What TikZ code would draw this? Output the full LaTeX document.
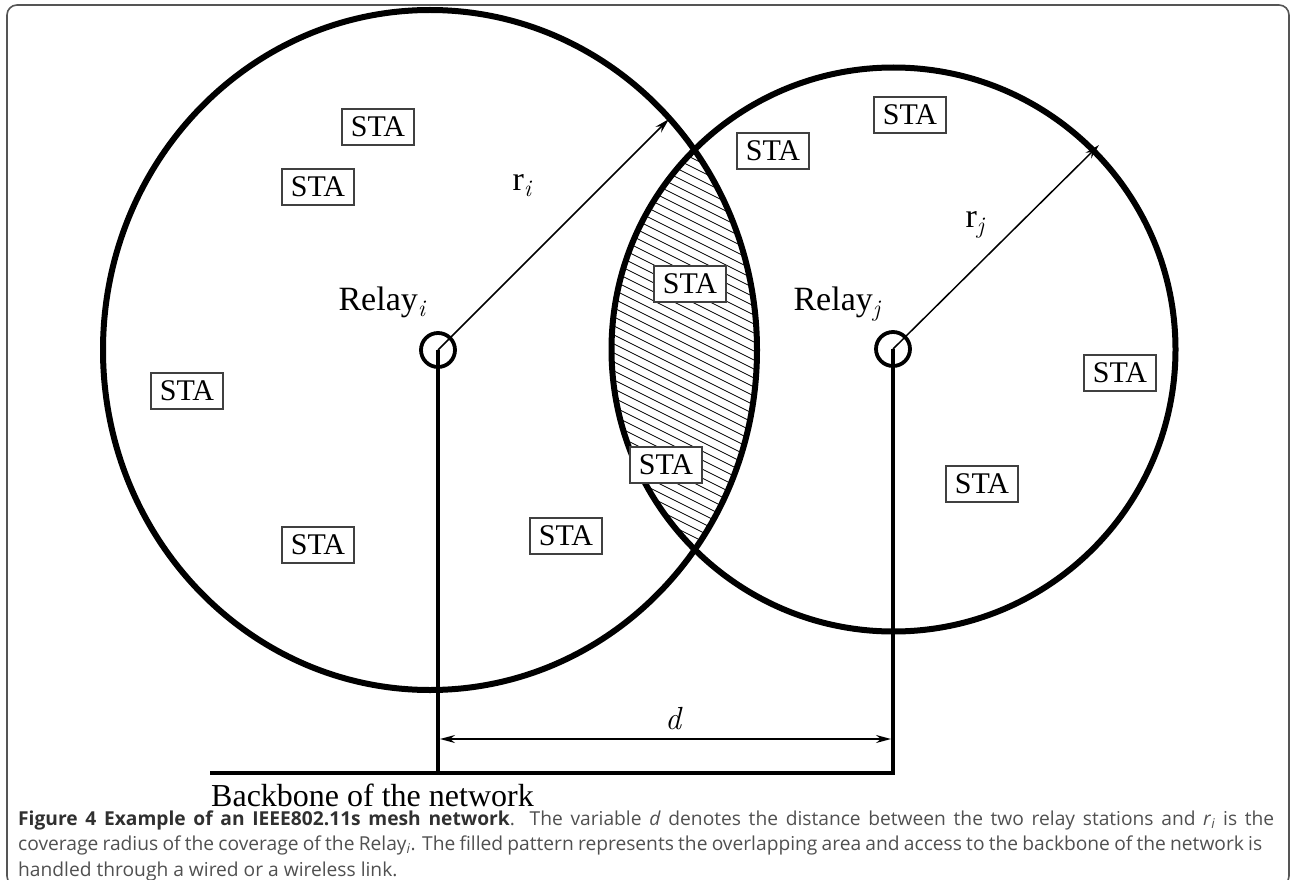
\documentclass[tikz,border=0pt]{standalone}
\usepackage{fontspec}
\setmainfont{Liberation Serif}
\newfontfamily\capfont{Open Sans}
\newfontfamily\lmit{Latin Modern Roman}
\usetikzlibrary{arrows.meta}
\definecolor{capgray}{HTML}{505050}
\definecolor{capbold}{HTML}{303030}
\definecolor{framegray}{HTML}{555555}
\newcommand{\sbi}[1]{\textsubscript{\lmit\itshape #1}}
\tikzset{
  every picture/.style={x=1pt,y=-1pt},
  relay/.style={circle,draw=black,line width=3.8pt,minimum size=34pt,inner sep=0pt},
  sta/.style={draw=black!75,line width=1.2pt,fill=white,inner sep=2pt,minimum height=36pt,minimum width=72pt,font=\fontsize{30}{32}\selectfont},
  lbl/.style={anchor=base,inner sep=0pt,font=\fontsize{34}{36}\selectfont},
  wire/.style={line width=4.5pt},
  radarrow/.style={line width=1.5pt,-{Stealth[length=15pt,width=8pt]}},
  caption/.style={anchor=base west,inner sep=0pt,font=\capfont\fontsize{19.2}{21}\selectfont,text=capgray},
}
\begin{document}
\begin{tikzpicture}
\useasboundingbox (0,0) rectangle (1291,880);
\draw[framegray,line width=1.6pt,rounded corners=10pt] (7,5) rectangle (1289,886);
% hatch in overlap
\begin{scope}
  \clip (430,350) ellipse [x radius=327,y radius=340];
  \clip (893.5,349.5) circle [radius=282];
  \foreach \k in {-150,-141,...,700}{
    \draw[line width=0.7pt] (580,\k) -- (820,\k+120);
  }
\end{scope}
% big circles
\draw[line width=6pt] (430,350) ellipse [x radius=327,y radius=340];
\draw[line width=6pt] (893.5,349.5) circle [radius=282];
% relays
\node[relay] (ri) at (438,350) {};
\node[relay] (rj) at (893,349) {};
\coordinate (ai) at (669,119);
\coordinate (aj) at (1099,145);
\draw[radarrow] (ri.center) -- (ai);
\draw[radarrow] (rj.center) -- (aj);
% wires
\coordinate (bi) at (438,773);
\coordinate (bj) at (893,773);
\coordinate (bl) at (210,773);
\draw[wire] (ri.center) -- (bi);
\draw[wire,line join=miter] (bl) -- (bj) -- (rj.center);
% d arrow
\coordinate (di) at (440,739);
\coordinate (dj) at (891,739);
\draw[line width=1.5pt,{Stealth[length=15pt,width=8pt]}-{Stealth[length=15pt,width=8pt]}] (di) -- (dj);
\node[lbl,font=\lmit\itshape\fontsize{32}{34}\selectfont] (dl) at (673,729) {d};
% labels
\node[lbl] (li) at (382,310) {Relay\sbi{i}};
\node[lbl] (lj) at (837,310) {Relay\sbi{j}};
\node[lbl] (rli) at (522,190) {r\sbi{i}};
\node[lbl] (rlj) at (975,227) {r\sbi{j}};
% STA boxes
\node[sta] (s1) at (378,127) {STA};
\node[sta] (s2) at (318,187) {STA};
\node[sta] (s3) at (187,391) {STA};
\node[sta] (s4) at (318,545) {STA};
\node[sta] (s5) at (566,536) {STA};
\node[sta] (s6) at (690,284) {STA};
\node[sta] (s7) at (666,465) {STA};
\node[sta] (s8) at (773,151) {STA};
\node[sta] (s9) at (910,115) {STA};
\node[sta] (s10) at (1120,373) {STA};
\node[sta] (s11) at (982,484) {STA};
% backbone text
\node[anchor=base west,inner sep=0pt,font=\fontsize{32}{34}\selectfont] (bb) at (211,806) {Backbone of the network};
% caption
\node[caption] (c1) at (18,825) {\makebox[1256pt][s]{{\bfseries\color{capbold}Figure 4 Example of an IEEE802.11s mesh network}. The variable \textit{d} denotes the distance between the two relay stations and \textit{r}\textsubscript{\textit{i}} is the}};
\node[caption] (c2) at (18,850.5) {\makebox[1244pt][s]{coverage radius of the coverage of the Relay\textsubscript{\textit{i}}. The filled pattern represents the overlapping area and access to the backbone of the network is}};
\node[caption] (c3) at (18,876) {handled through a wired or a wireless link.};
\end{tikzpicture}
\end{document}
